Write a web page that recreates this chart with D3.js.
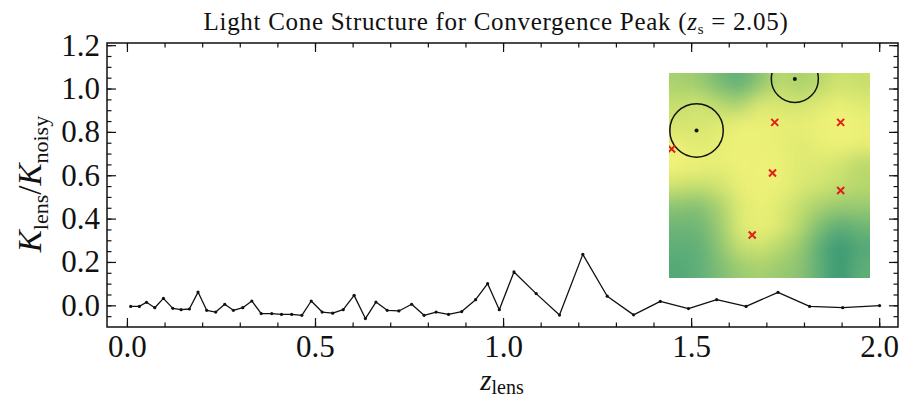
<!DOCTYPE html>
<html>
<head>
<meta charset="utf-8">
<script src="https://cdn.jsdelivr.net/npm/d3@7/dist/d3.min.js"></script>
<style>
  body { margin: 0; background: #fff; }
  svg text { font-family: "Liberation Serif", "DejaVu Serif", serif; fill: #111; }
</style>
</head>
<body>
<svg id="chart" width="901" height="398"></svg>
<script>
// Lens-plane redshifts and the convergence fraction each plane contributes
const zLens = [0.010, 0.033, 0.052, 0.074, 0.097, 0.122, 0.144, 0.166, 0.189, 0.212,
               0.236, 0.260, 0.283, 0.308, 0.332, 0.357, 0.385, 0.411, 0.438, 0.465,
               0.490, 0.519, 0.547, 0.575, 0.604, 0.634, 0.662, 0.692, 0.723, 0.757,
               0.790, 0.822, 0.855, 0.890, 0.927, 0.959, 0.990, 1.029, 1.088, 1.150,
               1.212, 1.277, 1.347, 1.418, 1.493, 1.568, 1.646, 1.731, 1.815, 1.903, 2.001];
const kappaRatio = [-0.005, -0.005, 0.014, -0.011, 0.032, -0.014, -0.020, -0.017, 0.061, -0.023,
                    -0.031, 0.005, -0.023, -0.011, 0.020, -0.038, -0.038, -0.042, -0.042, -0.046,
                    0.020, -0.031, -0.036, -0.020, 0.046, -0.061, 0.015, -0.023, -0.026, 0.005,
                    -0.046, -0.031, -0.042, -0.029, 0.026, 0.100, -0.020, 0.154, 0.054, -0.045,
                    0.235, 0.042, -0.044, 0.018, -0.015, 0.026, -0.005, 0.060, -0.005, -0.011, -0.001];

const xMajorTicks = [0.0, 0.5, 1.0, 1.5, 2.0];
const yMajorTicks = [0.0, 0.2, 0.4, 0.6, 0.8, 1.0, 1.2];
const xMinorTicks = d3.range(0, 21).map(i => i / 10);
const yMinorTicks = d3.range(-1, 25).map(i => i / 20);

// Inset convergence map (rows top to bottom, 0 = low, 1 = high)
const mapField = [
  [0.55, 0.50, 0.38, 0.30, 0.45, 0.62, 0.55, 0.60, 0.70, 0.66],
  [0.66, 0.70, 0.60, 0.55, 0.75, 0.72, 0.70, 0.76, 0.82, 0.76],
  [0.72, 0.72, 0.76, 0.86, 0.86, 0.80, 0.80, 0.86, 0.95, 0.86],
  [0.86, 0.76, 0.80, 0.86, 0.86, 0.80, 0.76, 0.80, 0.90, 0.80],
  [0.95, 0.86, 0.80, 0.86, 0.90, 0.86, 0.76, 0.75, 0.70, 0.60],
  [0.70, 0.65, 0.70, 0.80, 0.90, 0.86, 0.75, 0.70, 0.65, 0.60],
  [0.45, 0.42, 0.55, 0.75, 0.86, 0.76, 0.65, 0.55, 0.50, 0.50],
  [0.35, 0.35, 0.50, 0.75, 0.86, 0.75, 0.60, 0.40, 0.28, 0.35],
  [0.30, 0.30, 0.45, 0.65, 0.70, 0.60, 0.50, 0.28, 0.12, 0.25],
  [0.25, 0.30, 0.40, 0.50, 0.55, 0.50, 0.45, 0.30, 0.12, 0.30]
];
// Halo apertures (x, y, radius) and source peaks (x, y) in map units
const haloX = [1.37, 6.26];
const haloY = [7.20, 9.71];
const haloR = [1.33, 1.17];
const peakX = [5.26, 8.54, 0.13, 5.15, 8.54, 4.14];
const peakY = [7.59, 7.59, 6.29, 5.12, 4.27, 2.10];

const SERIF = "Liberation Serif, DejaVu Serif, serif";
const svg = d3.select("#chart");
const plot = { left: 107, right: 898, top: 43, bottom: 327 };

const x = d3.scaleLinear().domain([-0.053, 2.05]).range([plot.left, plot.right]);
const y = d3.scaleLinear().domain([-0.1, 1.21]).range([plot.bottom, plot.top]);

// ---- inset map ----
const ix = d3.scaleLinear().domain([0, 10]).range([669, 870]);
const iy = d3.scaleLinear().domain([0, 10]).range([278, 73]);
const color = d3.scaleLinear()
  .domain([0, 0.3, 0.6, 0.8, 1])
  .range(["#1f8a72", "#5fae78", "#b8d86c", "#e8ee74", "#f6f47a"])
  .clamp(true);

const defs = svg.append("defs");
defs.append("clipPath").attr("id", "mapClip")
  .append("rect")
  .attr("x", ix(0)).attr("y", iy(10))
  .attr("width", ix(10) - ix(0)).attr("height", iy(0) - iy(10));
defs.append("filter").attr("id", "smooth")
  .attr("x", "-20%").attr("y", "-20%").attr("width", "140%").attr("height", "140%")
  .attr("color-interpolation-filters", "sRGB")
  .append("feGaussianBlur").attr("stdDeviation", 9);

const nRows = mapField.length, nCols = mapField[0].length;
const cells = [];
mapField.forEach((row, r) => row.forEach((v, c) => cells.push({ r, c, v })));
const pad = 1.5; // edge cells extend outward so the blur keeps colour at the border

const mapG = svg.append("g").attr("clip-path", "url(#mapClip)");
mapG.append("g").attr("filter", "url(#smooth)")
  .selectAll("rect").data(cells).join("rect")
  .attr("x", d => ix(d.c === 0 ? -pad : d.c * 10 / nCols))
  .attr("y", d => iy(d.r === 0 ? 10 + pad : 10 - d.r * 10 / nRows))
  .attr("width", d => ix((d.c + 1) * 10 / nCols + (d.c === nCols - 1 ? pad : 0)) - ix(d.c === 0 ? -pad : d.c * 10 / nCols) + 0.5)
  .attr("height", d => iy(10 - (d.r + 1) * 10 / nRows - (d.r === nRows - 1 ? pad : 0)) - iy(d.r === 0 ? 10 + pad : 10 - d.r * 10 / nRows) + 0.5)
  .attr("fill", d => color(d.v));

mapG.selectAll("circle.halo").data(haloX).join("circle").attr("class", "halo")
  .attr("cx", (d, i) => ix(d)).attr("cy", (d, i) => iy(haloY[i]))
  .attr("r", (d, i) => ix(haloR[i]) - ix(0))
  .attr("fill", "none").attr("stroke", "#111").attr("stroke-width", 1.5);
mapG.selectAll("circle.core").data(haloX).join("circle").attr("class", "core")
  .attr("cx", (d, i) => ix(d)).attr("cy", (d, i) => iy(haloY[i]))
  .attr("r", 2).attr("fill", "#111");
const cs = 3.5;
mapG.selectAll("path.peak").data(peakX).join("path").attr("class", "peak")
  .attr("d", (d, i) => {
    const px = ix(d), py = iy(peakY[i]);
    return `M${px - cs},${py - cs}L${px + cs},${py + cs}M${px - cs},${py + cs}L${px + cs},${py - cs}`;
  })
  .attr("stroke", "#e0201c").attr("stroke-width", 2).attr("fill", "none");

// ---- data line ----
const pts = zLens.map((z, i) => [z, kappaRatio[i]]);
svg.append("path").datum(pts)
  .attr("d", d3.line().x(d => x(d[0])).y(d => y(d[1])))
  .attr("fill", "none").attr("stroke", "#111").attr("stroke-width", 1.3)
  .attr("stroke-linejoin", "round");
svg.append("g").selectAll("circle").data(pts).join("circle")
  .attr("cx", d => x(d[0])).attr("cy", d => y(d[1])).attr("r", 1.6).attr("fill", "#111");

// ---- axes: ticks inward on all four sides ----
function styleAxis(g) {
  g.select(".domain").remove();
  g.selectAll(".tick line").attr("stroke", "#111").attr("stroke-width", 1.2);
}
const major = 9, minor = 4.5;
svg.append("g").attr("transform", `translate(0,${plot.bottom})`)
  .call(d3.axisBottom(x).tickValues(xMinorTicks).tickSize(-minor).tickFormat("")).call(styleAxis);
svg.append("g").attr("transform", `translate(0,${plot.top})`)
  .call(d3.axisTop(x).tickValues(xMinorTicks).tickSize(-minor).tickFormat("")).call(styleAxis);
svg.append("g").attr("transform", `translate(0,${plot.top})`)
  .call(d3.axisTop(x).tickValues(xMajorTicks).tickSize(-major).tickFormat("")).call(styleAxis);
svg.append("g").attr("transform", `translate(${plot.left},0)`)
  .call(d3.axisLeft(y).tickValues(yMinorTicks).tickSize(-minor).tickFormat("")).call(styleAxis);
svg.append("g").attr("transform", `translate(${plot.right},0)`)
  .call(d3.axisRight(y).tickValues(yMinorTicks).tickSize(-minor).tickFormat("")).call(styleAxis);
svg.append("g").attr("transform", `translate(${plot.right},0)`)
  .call(d3.axisRight(y).tickValues(yMajorTicks).tickSize(-major).tickFormat("")).call(styleAxis);

const xAxis = svg.append("g").attr("transform", `translate(0,${plot.bottom})`)
  .call(d3.axisBottom(x).tickValues(xMajorTicks).tickSize(-major).tickPadding(8).tickFormat(d3.format(".1f")))
  .call(styleAxis);
xAxis.attr("font-family", SERIF);
xAxis.selectAll("text").attr("font-family", SERIF).attr("font-size", 31).attr("fill", "#111");

const yAxis = svg.append("g").attr("transform", `translate(${plot.left},0)`)
  .call(d3.axisLeft(y).tickValues(yMajorTicks).tickSize(-major).tickPadding(7).tickFormat(d3.format(".1f")))
  .call(styleAxis);
yAxis.attr("font-family", SERIF);
yAxis.selectAll("text").attr("font-family", SERIF).attr("font-size", 31).attr("fill", "#111");

svg.append("rect")
  .attr("x", plot.left).attr("y", plot.top)
  .attr("width", plot.right - plot.left).attr("height", plot.bottom - plot.top)
  .attr("fill", "none").attr("stroke", "#111").attr("stroke-width", 1.5);

// ---- labels ----
const title = svg.append("text").attr("x", 496).attr("y", 30)
  .attr("text-anchor", "middle").attr("font-family", SERIF).attr("font-size", 25)
  .attr("letter-spacing", 0.7);
title.append("tspan").text("Light Cone Structure for Convergence Peak (");
title.append("tspan").attr("font-style", "italic").text("z");
title.append("tspan").attr("font-size", 15).attr("dy", 4).text("s");
title.append("tspan").attr("dy", -4).text(" = 2.05)");

const xl = svg.append("text").attr("x", 502).attr("y", 390)
  .attr("text-anchor", "middle").attr("font-family", SERIF).attr("font-size", 29);
xl.append("tspan").attr("font-style", "italic").text("z");
xl.append("tspan").attr("font-size", 20).attr("dy", 4).text("lens");

const yl = svg.append("text")
  .attr("transform", "translate(41,184) rotate(-90)")
  .attr("text-anchor", "middle").attr("font-family", SERIF).attr("font-size", 33);
yl.append("tspan").attr("font-style", "italic").text("K");
yl.append("tspan").attr("font-size", 22).attr("dy", 7).text("lens");
yl.append("tspan").attr("dy", -7).text("/");
yl.append("tspan").attr("font-style", "italic").text("K");
yl.append("tspan").attr("font-size", 22).attr("dy", 7).text("noisy");
</script>
</body>
</html>
